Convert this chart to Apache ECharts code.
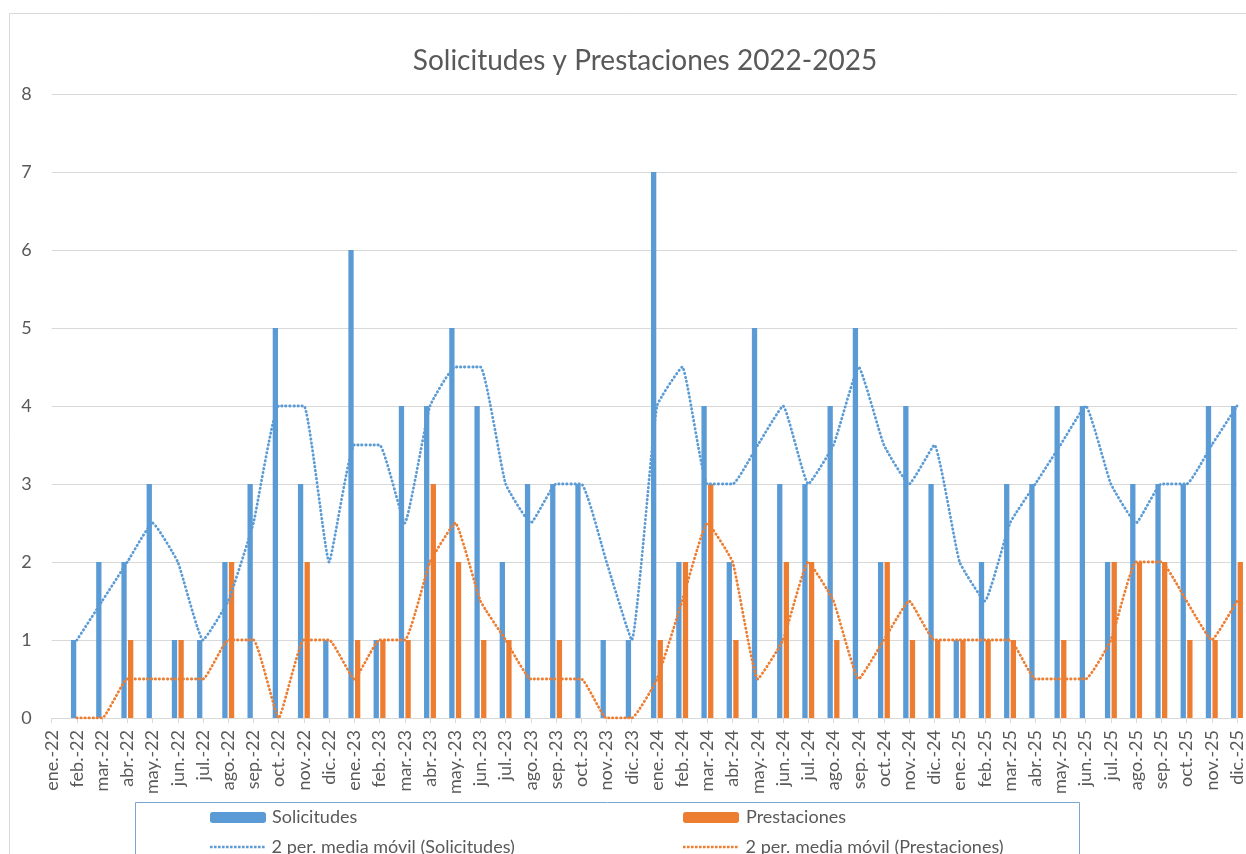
<!DOCTYPE html>
<html>
<head>
<meta charset="utf-8">
<script src="https://cdn.jsdelivr.net/npm/echarts@6/dist/echarts.min.js"></script>
<style>
html,body{margin:0;padding:0;background:#fff;}
#chart{width:1246px;height:854px;}
</style>
</head>
<body>
<div id="chart"></div>
<script>
const categories = [
  'ene.-22','feb.-22','mar.-22','abr.-22','may.-22','jun.-22','jul.-22','ago.-22','sep.-22','oct.-22','nov.-22','dic.-22',
  'ene.-23','feb.-23','mar.-23','abr.-23','may.-23','jun.-23','jul.-23','ago.-23','sep.-23','oct.-23','nov.-23','dic.-23',
  'ene.-24','feb.-24','mar.-24','abr.-24','may.-24','jun.-24','jul.-24','ago.-24','sep.-24','oct.-24','nov.-24','dic.-24',
  'ene.-25','feb.-25','mar.-25','abr.-25','may.-25','jun.-25','jul.-25','ago.-25','sep.-25','oct.-25','nov.-25','dic.-25'
];
const solicitudes = [
  1,1,2,2,3,1,1,2,3,5,3,1,
  6,1,4,4,5,4,2,3,3,3,1,1,
  7,2,4,2,5,3,3,4,5,2,4,3,
  1,2,3,3,4,4,2,3,3,3,4,4
];
const prestaciones = [
  0,0,0,1,0,1,0,2,0,0,2,0,
  1,1,1,3,2,1,1,0,1,0,0,0,
  1,2,3,1,0,2,2,1,0,2,1,1,
  1,1,1,0,1,0,2,2,2,1,1,2
];
const mediaSolicitudes = [
  null,1,1.5,2,2.5,2,1,1.5,2.5,4,4,2,
  3.5,3.5,2.5,4,4.5,4.5,3,2.5,3,3,2,1,
  4,4.5,3,3,3.5,4,3,3.5,4.5,3.5,3,3.5,
  2,1.5,2.5,3,3.5,4,3,2.5,3,3,3.5,4
];
const mediaPrestaciones = [
  null,0,0,0.5,0.5,0.5,0.5,1,1,0,1,1,
  0.5,1,1,2,2.5,1.5,1,0.5,0.5,0.5,0,0,
  0.5,1.5,2.5,2,0.5,1,2,1.5,0.5,1,1.5,1,
  1,1,1,0.5,0.5,0.5,1,2,2,1.5,1,1.5
];
const yTicks = [0, 8, 1];

const FONT = 'Lato, Carlito, "Open Sans", sans-serif';
const GREY = '#595959';
const BLUE = '#5b9bd5';
const ORANGE = '#ed7d31';

// The first category sits on the left edge of the plot; its bar (drawn left of
// the tick) falls outside the plot area, which the original clips away.
const barData = (arr, hideFirst) => arr.map((v, i) =>
  (i === 0 && hideFirst) ? { value: v, itemStyle: { opacity: 0 } } : v);

// dotted-line legend icon: a row of small dots
let dotPath = 'path://';
for (let i = 0; i < 14; i++) { const x = i * 4; dotPath += 'M' + x + ',0h2.6v2.6h-2.6z'; }

const chart = echarts.init(document.getElementById('chart'));
const dotStyle = (c) => ({ color: c, width: 2.8, type: [0.4, 3.6], cap: 'round' });

const LH = 22;
const legendText = { fontFamily: FONT, fontSize: 18, color: GREY, lineHeight: LH };

chart.setOption({
  animation: false,
  backgroundColor: '#fff',
  title: {
    text: 'Solicitudes y Prestaciones 2022-2025',
    left: 645, top: 47, textAlign: 'center', padding: 0,
    textStyle: { fontFamily: FONT, fontSize: 28, fontWeight: 'normal', color: GREY }
  },
  graphic: [
    { type: 'rect', shape: { x: 9.5, y: 13.5, width: 1400, height: 1000 }, style: { fill: 'none', stroke: '#d9d9d9', lineWidth: 1 }, silent: true, z: -10 },
    { type: 'rect', shape: { x: 135.5, y: 802.5, width: 944, height: 200 }, style: { fill: 'none', stroke: '#7aa6d6', lineWidth: 1 }, silent: true, z: -5 }
  ],
  legend: [
    { data: ['Solicitudes'], left: 210, top: 817.5 - LH / 2, padding: 0, itemWidth: 56, itemHeight: 11,
      textStyle: Object.assign({ padding: [0,0,0,1] }, legendText) },
    { data: ['Prestaciones'], left: 683, top: 817.5 - LH / 2, padding: 0, itemWidth: 56, itemHeight: 11,
      textStyle: Object.assign({ padding: [0,0,0,2] }, legendText) },
    { data: [{ name: '2 per. media móvil (Solicitudes)', icon: dotPath, itemStyle: { color: BLUE } }],
      left: 210, top: 847 - LH / 2, padding: 0, itemWidth: 54.6, itemHeight: 2.6,
      textStyle: Object.assign({ padding: [0,0,0,2] }, legendText) },
    { data: [{ name: '2 per. media móvil (Prestaciones)', icon: dotPath, itemStyle: { color: ORANGE } }],
      left: 683, top: 847 - LH / 2, padding: 0, itemWidth: 54.6, itemHeight: 2.6,
      textStyle: Object.assign({ padding: [0,0,0,3] }, legendText) }
  ],
  grid: { left: 51.7, right: 9, top: 94, bottom: 136, containLabel: false },
  xAxis: {
    type: 'category', data: categories, boundaryGap: false,
    axisLine: { show: true, lineStyle: { color: '#d9d9d9', width: 1 } },
    axisTick: { show: true, alignWithLabel: true, length: 5, lineStyle: { color: '#d9d9d9' } },
    axisLabel: { interval: 0, rotate: 90, margin: 12, fontFamily: FONT, fontSize: 18, color: GREY },
    splitLine: { show: false }
  },
  yAxis: {
    type: 'value', min: yTicks[0], max: yTicks[1], interval: yTicks[2],
    axisLine: { show: false }, axisTick: { show: false },
    axisLabel: { margin: 20, fontFamily: FONT, fontSize: 18, color: GREY },
    splitLine: { lineStyle: { color: '#d9d9d9', width: 1 } }
  },
  series: [
    { name: 'Solicitudes', type: 'bar', data: barData(solicitudes, true), barWidth: 5.3, barGap: '25%', clip: true,
      itemStyle: { color: BLUE } },
    { name: 'Prestaciones', type: 'bar', data: barData(prestaciones, true), barWidth: 5.3, barGap: '25%', clip: true,
      itemStyle: { color: ORANGE } },
    { name: '2 per. media móvil (Solicitudes)', type: 'line', data: mediaSolicitudes, symbol: 'none',
      smooth: 0.12, connectNulls: false, lineStyle: dotStyle(BLUE), itemStyle: { color: BLUE }, z: 5 },
    { name: '2 per. media móvil (Prestaciones)', type: 'line', data: mediaPrestaciones, symbol: 'none',
      smooth: 0.12, connectNulls: false, lineStyle: dotStyle(ORANGE), itemStyle: { color: ORANGE }, z: 5 }
  ]
});
</script>
</body>
</html>
